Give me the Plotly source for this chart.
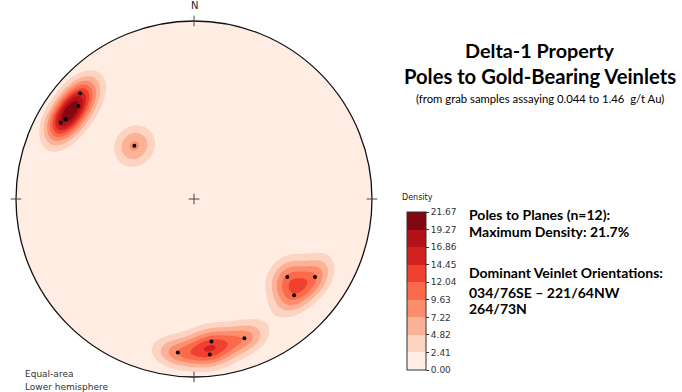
import numpy as np
import plotly.graph_objects as go

# ---- data: poles to veinlet planes (trend / plunge, degrees), lower hemisphere
POLE_TREND = [312.9, 308.8, 301.9, 299.8, 311.7, 129.9, 122.8, 133.9, 160.1, 173.0, 174.2, 186.0]
POLE_PLUNGE = [13.7, 17.8, 16.2, 14.8, 53.0, 32.2, 20.2, 23.0, 18.0, 20.4, 13.3, 14.3]

DENSITY_TICKS = [0.00, 2.41, 4.82, 7.22, 9.63, 12.04, 14.45, 16.86, 19.27, 21.67]
MAX_DENSITY = 21.67
BAND_COLORS = ["#ffece3", "#fdd4c2", "#fcb297", "#fc8e6e", "#fb6a4a",
               "#f0402f", "#d32020", "#b21218", "#830711"]

TITLE_LINES = ["Delta-1 Property", "Poles to Gold-Bearing Veinlets"]
SUBTITLE = "(from grab samples assaying 0.044 to 1.46  g/t Au)"
INFO_LINES = ["Poles to Planes (n=12):", "Maximum Density: 21.7%",
              "Dominant Veinlet Orientations:", "034/76SE \u2013 221/64NW", "264/73N"]

W, H = 682, 392
CX, CY, R = 194, 199, 178   # stereonet centre / radius in pixels
EXT = 1.06

# ---- equal-area (Schmidt) projection, lower hemisphere
def project(trend, plunge):
    t = np.radians(np.asarray(trend, float))
    th = np.radians(90 - np.asarray(plunge, float))
    r = np.sqrt(2) * np.sin(th / 2)
    return r * np.sin(t), r * np.cos(t)

px, py = project(POLE_TREND, POLE_PLUNGE)

# ---- density grid (exponential kernel on the sphere)
n = 321
g = np.linspace(-EXT, EXT, n)
X, Y = np.meshgrid(g, g)
rr = np.minimum(np.hypot(X, Y), 1.0)
th = 2 * np.arcsin(rr / np.sqrt(2))
az = np.arctan2(X, Y)
gv = np.stack([np.sin(th) * np.sin(az), np.sin(th) * np.cos(az), -np.cos(th)], -1)
tp = np.radians(POLE_TREND); pp = np.radians(POLE_PLUNGE)
pv = np.stack([np.cos(pp) * np.sin(tp), np.cos(pp) * np.cos(tp), -np.sin(pp)], -1)
cosd = np.abs(gv @ pv.T)
k = 87.0
dens = np.exp(k * (cosd - 1)).sum(-1)
inside = np.hypot(X, Y) <= 1.0
dens = dens * MAX_DENSITY / dens[inside].max()

step = MAX_DENSITY / 9
cscale = []
for i, c in enumerate(BAND_COLORS):
    cscale.append([i / 9, c])
    cscale.append([(i + 1) / 9, c])

fig = go.Figure()
fig.add_trace(go.Contour(
    x=g, y=g, z=dens, zmin=0, zmax=MAX_DENSITY,
    colorscale=cscale,
    contours=dict(start=0, end=MAX_DENSITY, size=step, coloring="fill", showlines=False),
    line=dict(width=0),
    hoverinfo="skip",
    colorbar=dict(
        x=407 / W, xanchor="left", y=(H - 370) / H, yanchor="bottom",
        len=158, lenmode="pixels", thickness=19, thicknessmode="pixels",
        xpad=0, ypad=0, outlinewidth=1, outlinecolor="#333",
        tickvals=DENSITY_TICKS, ticktext=[f"{v:.2f}" for v in DENSITY_TICKS],
        ticks="outside", ticklen=3, tickcolor="#333",
        tickfont=dict(family="DejaVu Sans", size=9, color="#333"),
    ),
))
fig.add_trace(go.Scatter(x=px, y=py, mode="markers",
                         marker=dict(color="black", size=4), hoverinfo="skip",
                         showlegend=False))

# ---- mask outside primitive circle, outline, ticks
ang = np.linspace(0, 2 * np.pi, 361)
B = EXT + 0.05
path = f"M {-B} {-B} L {B} {-B} L {B} {B} L {-B} {B} Z M " + " L ".join(
    f"{np.cos(a):.5f} {np.sin(a):.5f}" for a in ang) + " Z"
shapes = [dict(type="path", path=path, xref="x", yref="y", fillcolor="white",
               fillrule="evenodd", line=dict(width=0), layer="above"),
          dict(type="circle", xref="x", yref="y", x0=-1, y0=-1, x1=1, y1=1,
               line=dict(color="#111", width=1.3), layer="above")]
tl = 0.03
for (x0, y0, x1, y1) in [(0, 1 - tl, 0, 1 + tl), (0, -1 - tl, 0, -1 + tl),
                         (1 - tl, 0, 1 + tl, 0), (-1 - tl, 0, -1 + tl, 0),
                         (-tl, 0, tl, 0), (0, -tl, 0, tl)]:
    shapes.append(dict(type="line", xref="x", yref="y", x0=x0, y0=y0, x1=x1, y1=y1,
                       line=dict(color="#444", width=1), layer="above"))

half = EXT * R
xdom = [(CX - half) / W, (CX + half) / W]
ydom = [(H - CY - half) / H, (H - CY + half) / H]

ann = [dict(x=0, y=1.045, xref="x", yref="y", text="N", showarrow=False,
            font=dict(family="DejaVu Sans", size=10, color="#222"), yanchor="bottom")]
ann.append(dict(x=417 / W, y=1 - 197 / H, xref="paper", yref="paper", text="Density",
                showarrow=False, xanchor="center", yanchor="middle",
                font=dict(family="DejaVu Sans", size=8, color="#222")))
ann.append(dict(x=23 / W, y=1 - 374 / H, xref="paper", yref="paper", text="Equal-area",
                showarrow=False, xanchor="left", yanchor="middle",
                font=dict(family="DejaVu Sans", size=9, color="#333")))
ann.append(dict(x=23 / W, y=1 - 387 / H, xref="paper", yref="paper", text="Lower hemisphere",
                showarrow=False, xanchor="left", yanchor="middle",
                font=dict(family="DejaVu Sans", size=9, color="#333")))
for txt, yy, fs in zip(TITLE_LINES, [50, 76], [19.8, 20.2]):
    ann.append(dict(x=540 / W, y=1 - yy / H, xref="paper", yref="paper", text=f"<b>{txt}</b>",
                    showarrow=False, xanchor="center", yanchor="middle",
                    font=dict(family="Lato", size=fs, color="black")))
ann.append(dict(x=540 / W, y=1 - 99 / H, xref="paper", yref="paper", text=SUBTITLE,
                showarrow=False, xanchor="center", yanchor="middle",
                font=dict(family="Lato", size=11.3, color="black")))
for txt, yy in zip(INFO_LINES, [214, 231, 272, 292, 308]):
    ann.append(dict(x=467 / W, y=1 - yy / H, xref="paper", yref="paper", text=f"<b>{txt}</b>",
                    showarrow=False, xanchor="left", yanchor="middle",
                    font=dict(family="Lato", size=14, color="black")))

fig.update_layout(
    width=W, height=H, margin=dict(l=0, r=0, t=0, b=0, autoexpand=False),
    paper_bgcolor="white", plot_bgcolor="white",
    xaxis=dict(range=[-EXT, EXT], domain=xdom, visible=False, fixedrange=True),
    yaxis=dict(range=[-EXT, EXT], domain=ydom, visible=False, fixedrange=True),
    shapes=shapes, annotations=ann, showlegend=False,
)
fig.write_html("out.html", config={"displayModeBar": False},
               post_script="document.body.style.margin='0px';")
